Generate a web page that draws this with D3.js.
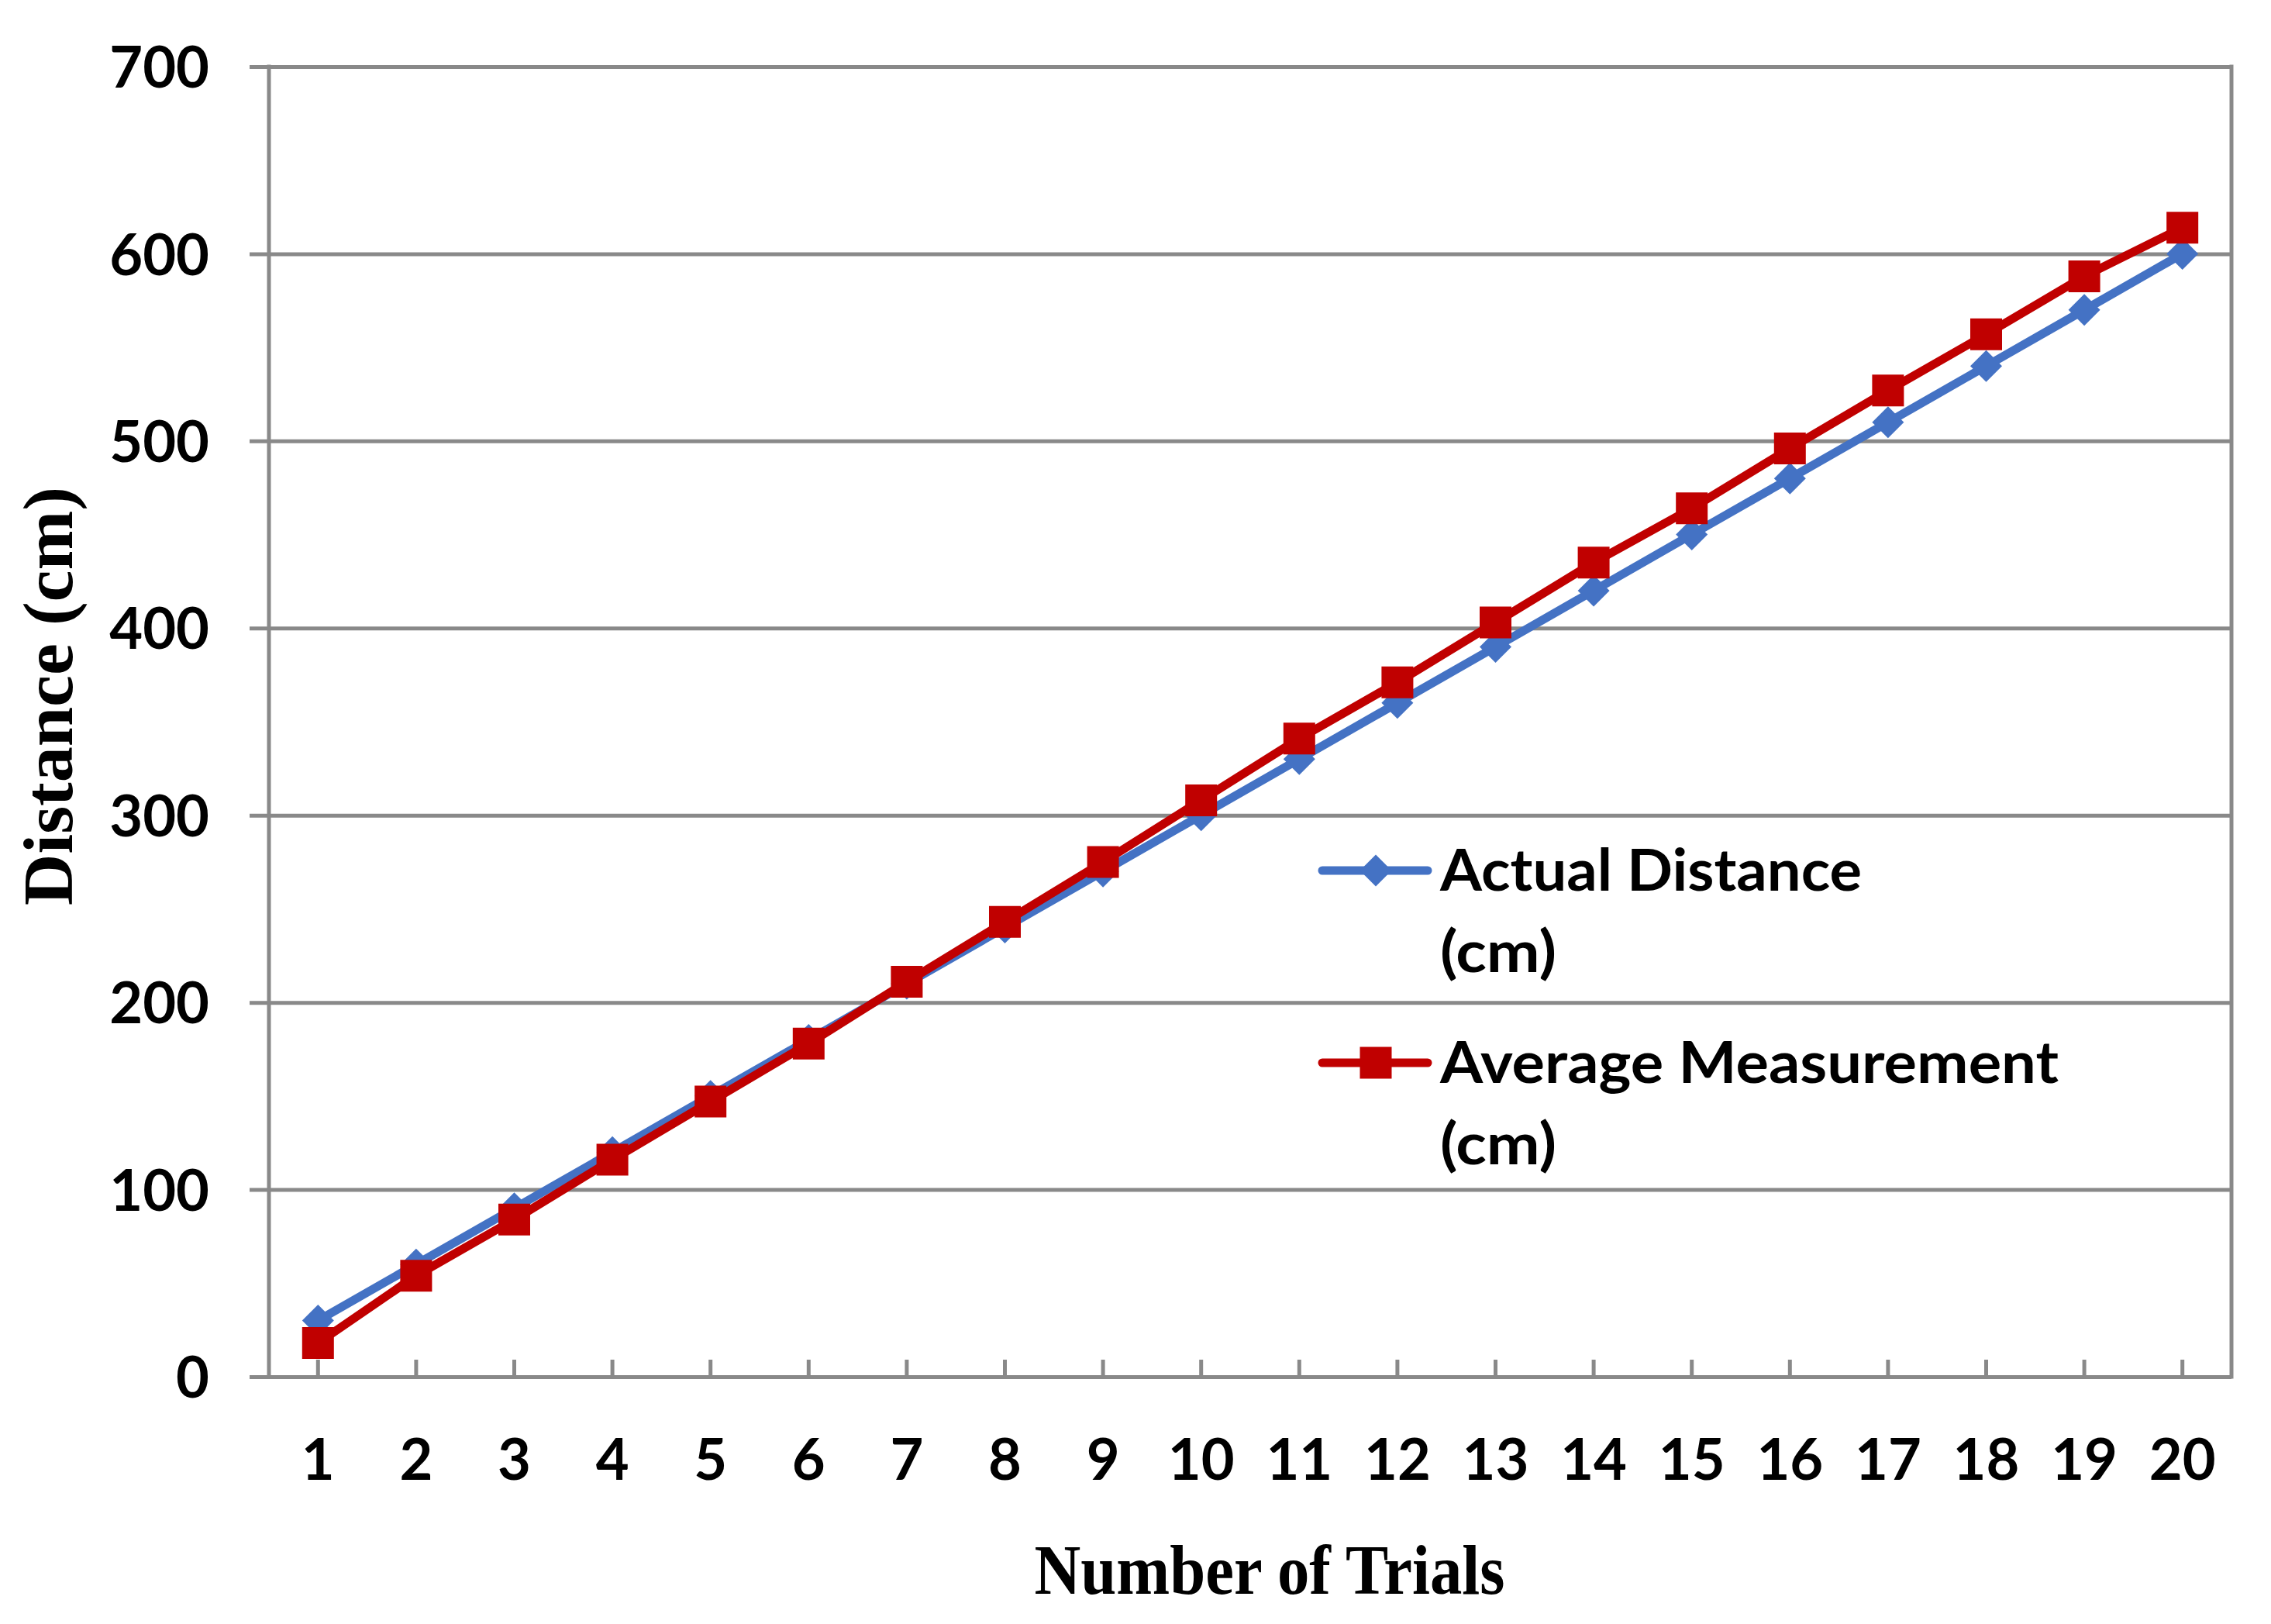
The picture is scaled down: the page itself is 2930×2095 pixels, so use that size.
<!DOCTYPE html>
<html>
<head>
<meta charset="utf-8">
<script src="https://cdn.jsdelivr.net/npm/d3@7"></script>
<style>
  body { margin: 0; background: #fff; }
  svg { display: block; }
</style>
</head>
<body>
<svg id="chart" width="2930" height="2095"></svg>
<script>
// data
var trials = ["1","2","3","4","5","6","7","8","9","10","11","12","13","14","15","16","17","18","19","20"];
var actualDistance = [30,60,90,120,150,180,210,240,270,300,330,360,390,420,450,480,510,540,570,600];
var avgMeasurement = [18,54,84,116,147,178,211,243,275,308,341,371,403,435,464,496,527,557,588,614];
var yTicks = [0,100,200,300,400,500,600,700];
var seriesNames = [["Actual Distance", "(cm)"], ["Average Measurement", "(cm)"]];

(function(){
var blue = "#4472C4", red = "#C00000", grid = "#898989";
var labelFont = "Lato, 'Open Sans', sans-serif";

var svg = d3.select("#chart"),
    pLeft = 347, pRight = 2879, pTop = 86, pBottom = 1776;

var x = d3.scaleBand().domain(trials).range([pLeft, pRight]),
    y = d3.scaleLinear().domain([0, 700]).range([pBottom, pTop]);

function cx(d){ return x(d) + x.bandwidth() / 2; }

svg.append("rect").attr("width", 2930).attr("height", 2095).attr("fill", "#fff");

// horizontal gridlines + y labels
var gy = svg.append("g")
    .attr("transform", "translate(322,0)")
    .call(d3.axisLeft(y).tickValues(yTicks).tickSizeInner(-(pRight - 322)).tickSizeOuter(0).tickPadding(52));
gy.select(".domain").remove();
gy.selectAll(".tick line").attr("stroke", grid).attr("stroke-width", 5);
gy.selectAll(".tick text")
  .attr("font-family", labelFont).attr("font-weight", "bold").attr("font-size", 74)
  .attr("fill", "#000").attr("dy", "0.36em");

// x axis ticks (pointing up) + labels
var gx = svg.append("g")
    .attr("transform", "translate(0," + pBottom + ")")
    .call(d3.axisBottom(x).tickSizeInner(-22).tickSizeOuter(0).tickPadding(80));
gx.select(".domain").remove();
gx.selectAll(".tick line").attr("stroke", grid).attr("stroke-width", 5);
gx.selectAll(".tick text")
  .attr("font-family", labelFont).attr("font-weight", "bold").attr("font-size", 74)
  .attr("fill", "#000");

// left axis and right border
svg.append("line").attr("x1", pLeft).attr("x2", pLeft).attr("y1", pTop - 2.5).attr("y2", pBottom + 2.5)
   .attr("stroke", grid).attr("stroke-width", 5);
svg.append("line").attr("x1", pRight).attr("x2", pRight).attr("y1", pTop - 2.5).attr("y2", pBottom + 2.5)
   .attr("stroke", grid).attr("stroke-width", 5);

var lineGen = d3.line()
    .x(function(d, i){ return cx(trials[i]); })
    .y(function(d){ return y(d); });

var square = d3.symbol().type(d3.symbolSquare).size(41 * 41),
    diamond = d3.symbol().type(d3.symbolSquare).size(840);

// actual distance
svg.append("path").datum(actualDistance)
   .attr("fill", "none").attr("stroke", blue).attr("stroke-width", 11)
   .attr("stroke-linejoin", "round").attr("d", lineGen);
svg.append("g").selectAll("path").data(actualDistance).enter().append("path")
   .attr("d", diamond).attr("fill", blue)
   .attr("transform", function(d, i){ return "translate(" + cx(trials[i]) + "," + y(d) + ") rotate(45)"; });

// average measurement
svg.append("path").datum(avgMeasurement)
   .attr("fill", "none").attr("stroke", red).attr("stroke-width", 11)
   .attr("stroke-linejoin", "round").attr("d", lineGen);
svg.append("g").selectAll("path").data(avgMeasurement).enter().append("path")
   .attr("d", square).attr("fill", red)
   .attr("transform", function(d, i){ return "translate(" + cx(trials[i]) + "," + y(d) + ")"; });

// legend
var legend = [
  { color: blue, sym: diamond, rot: 45, ly: 1123, names: seriesNames[0], w: [544, 150] },
  { color: red,  sym: square,  rot: 0,  ly: 1371, names: seriesNames[1], w: [798, 150] }
];
legend.forEach(function(l){
  svg.append("line").attr("x1", 1706).attr("x2", 1842).attr("y1", l.ly).attr("y2", l.ly)
     .attr("stroke", l.color).attr("stroke-width", 11).attr("stroke-linecap", "round");
  svg.append("path").attr("d", l.sym).attr("fill", l.color)
     .attr("transform", "translate(1775," + l.ly + ") rotate(" + l.rot + ")");
  l.names.forEach(function(n, j){
    svg.append("text").attr("x", 1858).attr("y", l.ly + 26 + j * 105)
       .attr("font-family", labelFont).attr("font-weight", "bold").attr("font-size", 74)
       .attr("textLength", l.w[j]).attr("lengthAdjust", "spacingAndGlyphs")
       .text(n);
  });
});

// axis titles
svg.append("text")
   .attr("transform", "translate(93,898) rotate(-90)")
   .attr("text-anchor", "middle")
   .attr("font-family", "'Liberation Serif', serif").attr("font-weight", "bold").attr("font-size", 90)
   .attr("textLength", 540).attr("lengthAdjust", "spacingAndGlyphs")
   .text("Distance (cm)");

svg.append("text")
   .attr("x", 1638).attr("y", 2056)
   .attr("text-anchor", "middle")
   .attr("font-family", "'Liberation Serif', serif").attr("font-weight", "bold").attr("font-size", 92)
   .attr("textLength", 607).attr("lengthAdjust", "spacingAndGlyphs")
   .text("Number of Trials");
})();
</script>
</body>
</html>
